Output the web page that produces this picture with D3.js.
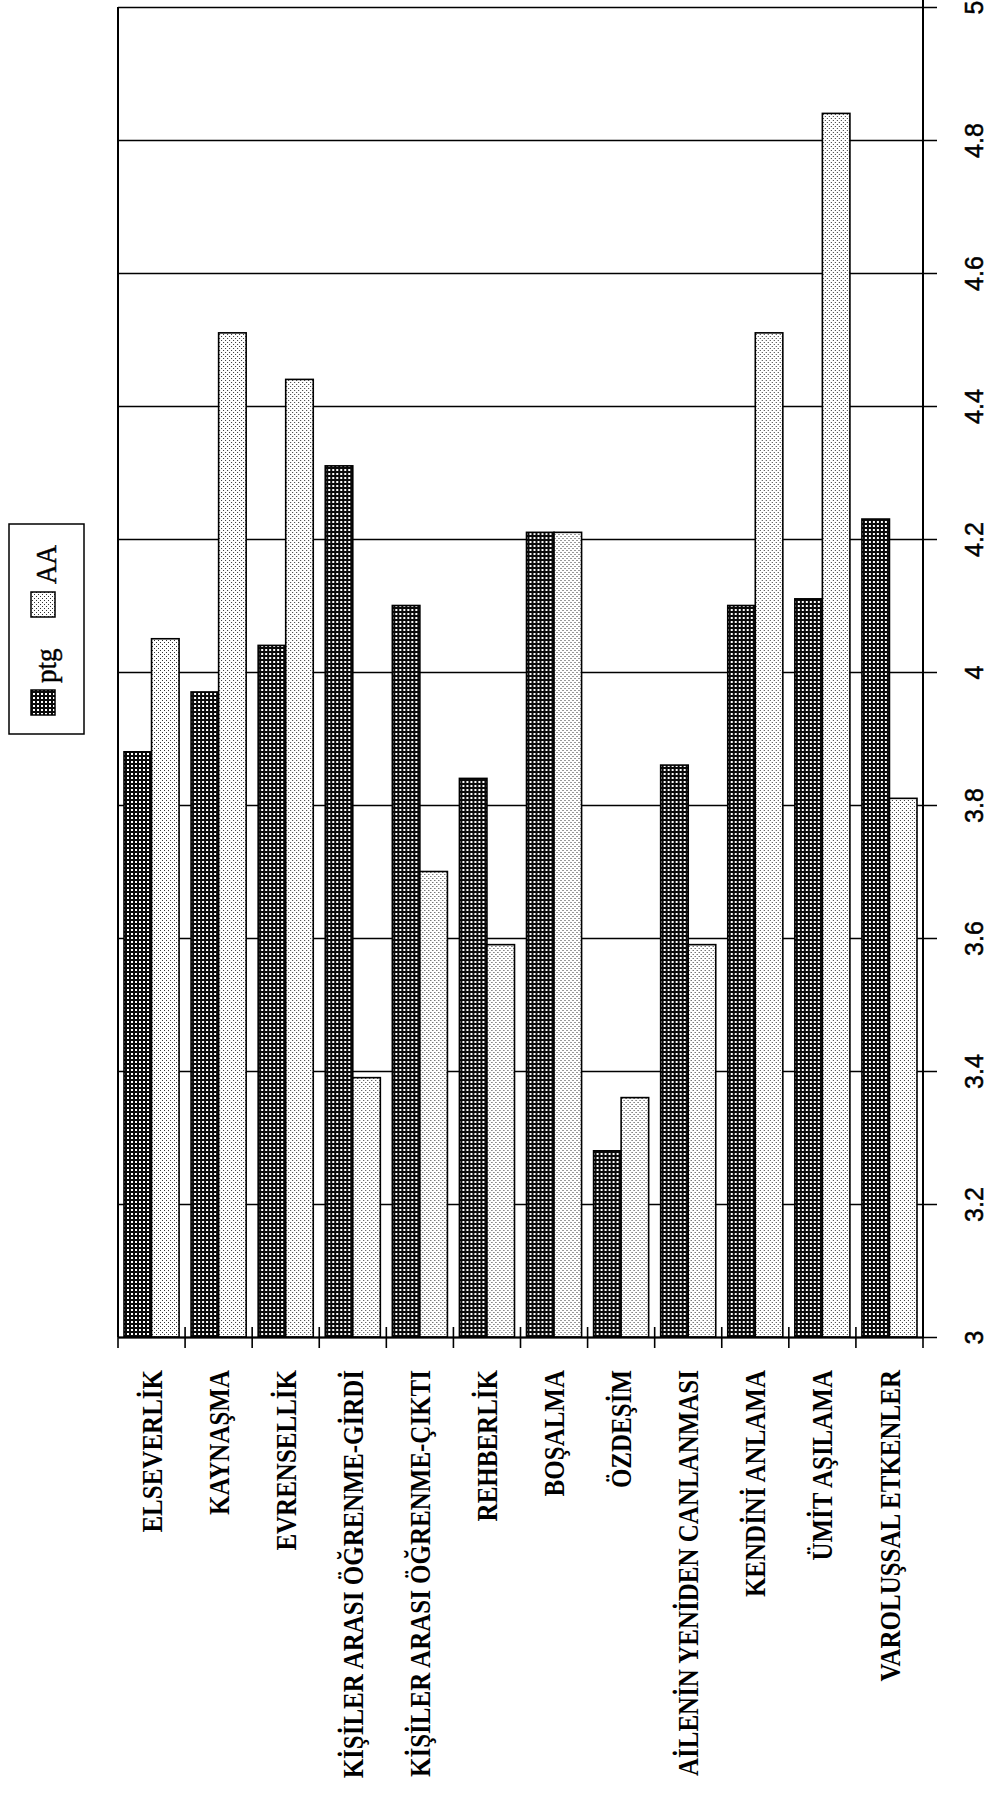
<!DOCTYPE html>
<html>
<head>
<meta charset="utf-8">
<script src="https://cdn.jsdelivr.net/npm/d3@7"></script>
<style>
  body { margin: 0; background: #fff; }
  svg { display: block; }
</style>
</head>
<body>
<div id="chart"></div>
<script>
const categories = [
    "ELSEVERLİK", "KAYNAŞMA", "EVRENSELLİK", "KİŞİLER ARASI ÖĞRENME-GİRDİ",
    "KİŞİLER ARASI ÖĞRENME-ÇIKTI", "REHBERLİK", "BOŞALMA", "ÖZDEŞİM",
    "AİLENİN YENİDEN CANLANMASI", "KENDİNİ ANLAMA", "ÜMİT AŞILAMA", "VAROLUŞSAL ETKENLER"
];
const ptg = [3.88, 3.97, 4.04, 4.31, 4.10, 3.84, 4.21, 3.28, 3.86, 4.10, 4.11, 4.23];
const aa  = [4.05, 4.51, 4.44, 3.39, 3.70, 3.59, 4.21, 3.36, 3.59, 4.51, 4.84, 3.81];
const seriesNames = ["ptg", "AA"];
const valueTicks = [3, 3.2, 3.4, 3.6, 3.8, 4, 4.2, 4.4, 4.6, 4.8, 5];

const W = 993, H = 1797;
const plotLeft = 118, plotRight = 923, plotTop = 7, plotBottom = 1337;

const svg = d3.select("#chart").append("svg")
    .attr("width", W)
    .attr("height", H);

const defs = svg.append("defs");

// dark checkered fill (ptg)
const pChk = defs.append("pattern")
    .attr("id", "chk")
    .attr("width", 4).attr("height", 4)
    .attr("patternUnits", "userSpaceOnUse");
pChk.append("rect").attr("width", 4).attr("height", 4).attr("fill", "#0a0a0a");
pChk.append("rect").attr("x", 1).attr("y", 1).attr("width", 2).attr("height", 2).attr("fill", "#fff");

// light stipple fill (AA)
const pDot = defs.append("pattern")
    .attr("id", "dot")
    .attr("width", 4).attr("height", 4)
    .attr("patternUnits", "userSpaceOnUse");
pDot.append("rect").attr("width", 4).attr("height", 4).attr("fill", "#fff");
pDot.append("rect").attr("x", 0).attr("y", 0).attr("width", 1).attr("height", 1).attr("fill", "#333");
pDot.append("rect").attr("x", 2).attr("y", 2).attr("width", 1).attr("height", 1).attr("fill", "#333");

const fills = { ptg: "url(#chk)", AA: "url(#dot)" };

const x = d3.scaleBand()
    .domain(categories)
    .range([plotLeft, plotRight]);

const xs = d3.scaleBand()
    .domain(seriesNames)
    .range([6, x.bandwidth() - 6]);

const y = d3.scaleLinear()
    .domain([3, 5])
    .range([plotBottom, plotTop]);

// grid lines (run a bit past the right axis as outer ticks)
const grid = svg.append("g")
    .attr("transform", `translate(${plotLeft},0)`)
    .call(d3.axisRight(y)
        .tickValues(valueTicks)
        .tickSize(937 - plotLeft)
        .tickFormat(""));
grid.select(".domain").remove();
grid.selectAll("line").attr("stroke", "#000").attr("stroke-width", 1.6);

// bars
const data = categories.map((c, i) => ({ cat: c, values: [
    { key: "ptg", v: ptg[i] },
    { key: "AA", v: aa[i] }
]}));

const groups = svg.append("g")
    .selectAll("g")
    .data(data)
    .enter()
    .append("g")
    .attr("transform", d => `translate(${x(d.cat)},0)`);

groups.selectAll("rect")
    .data(d => d.values)
    .enter()
    .append("rect")
    .attr("x", d => xs(d.key))
    .attr("y", d => y(d.v))
    .attr("width", xs.bandwidth())
    .attr("height", d => y(3) - y(d.v))
    .attr("fill", d => fills[d.key])
    .attr("stroke", "#000")
    .attr("stroke-width", 1.6);

// left frame line
svg.append("line")
    .attr("x1", plotLeft).attr("x2", plotLeft)
    .attr("y1", y(5)).attr("y2", y(3))
    .attr("stroke", "#000").attr("stroke-width", 2);

// value axis on the right
const yAxis = svg.append("g")
    .attr("transform", `translate(${plotRight},0)`)
    .call(d3.axisRight(y)
        .tickValues(valueTicks)
        .tickSize(0)
        .tickSizeOuter(0)
        .tickFormat(d3.format("~g")));
yAxis.select(".domain").attr("stroke", "#000").attr("stroke-width", 2)
    .attr("d", `M0,0V${plotBottom}`);
yAxis.selectAll("text")
    .attr("x", 0)
    .attr("dy", 0)
    .attr("transform", "translate(60,0) rotate(-90)")
    .attr("text-anchor", "middle")
    .style("font-family", "'Liberation Sans', Arial, sans-serif")
    .style("font-size", "25px")
    .style("stroke", "#000")
    .style("stroke-width", 0.5)
    .attr("fill", "#000");

// category axis at the bottom
const xAxis = svg.append("g")
    .attr("transform", `translate(0,${plotBottom})`)
    .call(d3.axisBottom(x).tickSize(0).tickSizeOuter(0));
xAxis.select(".domain").attr("stroke", "#000").attr("stroke-width", 2);
xAxis.selectAll("text")
    .attr("y", 0)
    .attr("x", 0)
    .attr("dy", "0.35em")
    .attr("transform", "translate(0,33) rotate(-90) scale(1,1.15)")
    .attr("text-anchor", "end")
    .style("font-family", "'Liberation Serif', 'Times New Roman', serif")
    .style("font-weight", "bold")
    .style("font-size", "25px")
    .attr("fill", "#000");

// boundary ticks between categories
const bounds = categories.map(c => x(c)).concat([x(categories[categories.length - 1]) + x.bandwidth()]);
xAxis.selectAll(".sep")
    .data(bounds)
    .enter()
    .append("line")
    .attr("class", "sep")
    .attr("x1", d => d).attr("x2", d => d)
    .attr("y1", (d, i) => i === 0 ? 0 : -10)
    .attr("y2", 11)
    .attr("stroke", "#000")
    .attr("stroke-width", 1.6);

// legend
const legend = svg.append("g");
legend.append("rect")
    .attr("x", 9).attr("y", 524)
    .attr("width", 75).attr("height", 210)
    .attr("fill", "#fff")
    .attr("stroke", "#000")
    .attr("stroke-width", 1.5);

const legendItems = [
    { key: "ptg", sy: 690, ty: 683 },
    { key: "AA", sy: 592, ty: 584 }
];
legendItems.forEach(it => {
    legend.append("rect")
        .attr("x", 31).attr("y", it.sy)
        .attr("width", 24).attr("height", 25)
        .attr("fill", fills[it.key])
        .attr("stroke", "#000")
        .attr("stroke-width", 1.5);
    legend.append("text")
        .attr("transform", `translate(56,${it.ty}) rotate(-90) scale(1,1.1)`)
        .attr("text-anchor", "start")
        .style("font-family", "'Liberation Serif', 'Times New Roman', serif")
        .style("font-size", "27px")
        .style("stroke", "#000")
        .style("stroke-width", 0.4)
        .attr("fill", "#000")
        .text(it.key);
});
</script>
</body>
</html>
